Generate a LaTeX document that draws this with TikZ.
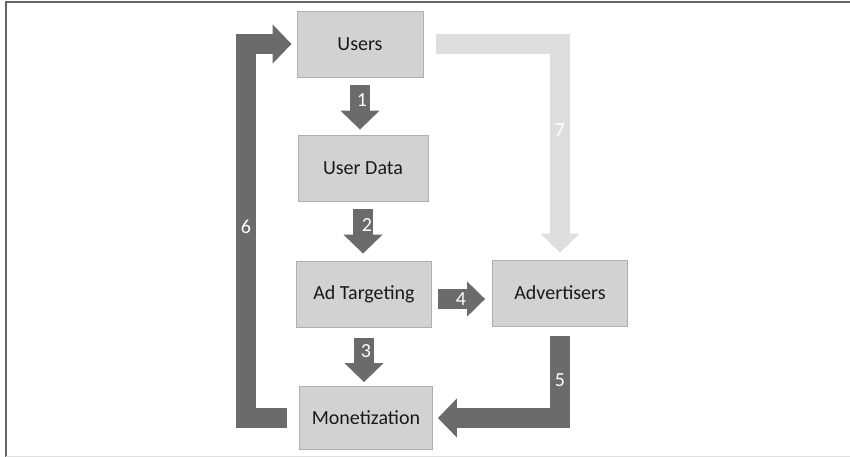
\documentclass[tikz,border=0pt]{standalone}
\usepackage{fontspec}
\setmainfont{Carlito}
\usetikzlibrary{calc,
                arrows.meta
                }

\definecolor{boxgray}{RGB}{210,210,210}
\definecolor{boxedge}{RGB}{175,175,175}
\definecolor{arrowdark}{RGB}{107,107,107}
\definecolor{arrowlight}{RGB}{222,222,222}

\tikzset{
    stage/.style={fill=boxgray, draw=boxedge, line width=0.8pt,
                  minimum width=130pt, minimum height=66pt,
                  text=black!90, font=\fontsize{20}{22}\selectfont},
    flow/.style={line width=20pt, line join=miter, draw=arrowdark,
                 -{Triangle[width=38pt,length=19pt]}},
    flowlight/.style={flow, draw=arrowlight},
    stepnum/.style={text=white, font=\fontsize{20}{22}\selectfont}
}

\begin{document}
\begin{tikzpicture}[x=1pt, y=-1pt]
    % Rahmen des Bildes
    \useasboundingbox (0,0) rectangle (850,457);
    \draw[line width=2pt, black!60] (6,457) -- (6,2) -- (850,2);
    \draw[line width=1pt, black!12] (6,456) -- (850,456);

    % Kaesten
    \node[stage, minimum width=126pt] (users) at (360,44) {Users};
    \node[stage] (userdata) at (363,168) {User Data};
    \node[stage, minimum width=135pt] (adtarget) at (364,294) {Ad Targeting};
    \node[stage, minimum width=135pt] (advert) at (560,293) {Advertisers};
    \node[stage, minimum width=133pt, minimum height=63pt] (monet) at (366,418) {Monetization};

    % Hilfspunkte fuer die Rueckfuehrung
    \coordinate (loop6) at (246,227);

    % Pfeile 1 bis 4
    \draw[flow, shorten <=8pt, shorten >=5pt] (users.south) -- (users.south |- userdata.north);
    \draw[flow, shorten <=8pt, shorten >=7pt] (userdata.south) -- (userdata.south |- adtarget.north);
    \draw[flow, shorten <=11pt, shorten >=4pt] (adtarget.south) -- (adtarget.south |- monet.north);
    \draw[flow, -{Triangle[width=34pt,length=18pt]}, shorten <=6pt, shorten >=7pt]
        ([yshift=-5pt]adtarget.east) -- ([yshift=-5pt]adtarget.east -| advert.west);

    % Pfeil 5 (Werbekunden -> Monetarisierung)
    \draw[flow, shorten <=10pt, shorten >=5pt] (advert.south) |- (monet.east);
    % Pfeil 6 (Rueckfuehrung zu den Nutzern)
    \draw[flow, shorten <=12pt, shorten >=5pt] (monet.west) -| (loop6) |- (users.west);
    % Pfeil 7 (hell)
    \draw[flowlight, shorten <=13pt, shorten >=7pt] (users.east) -| (advert.north);

    % Nummern
    \node[stepnum] (n1) at (362,100) {1};
    \node[stepnum] (n2) at (367,225) {2};
    \node[stepnum] (n3) at (366,351) {3};
    \node[stepnum] (n4) at (461,299) {4};
    \node[stepnum] (n5) at (560,380) {5};
    \node[stepnum] (n6) at (loop6) {6};
    \node[stepnum] (n7) at (560,130) {7};
\end{tikzpicture}
\end{document}
